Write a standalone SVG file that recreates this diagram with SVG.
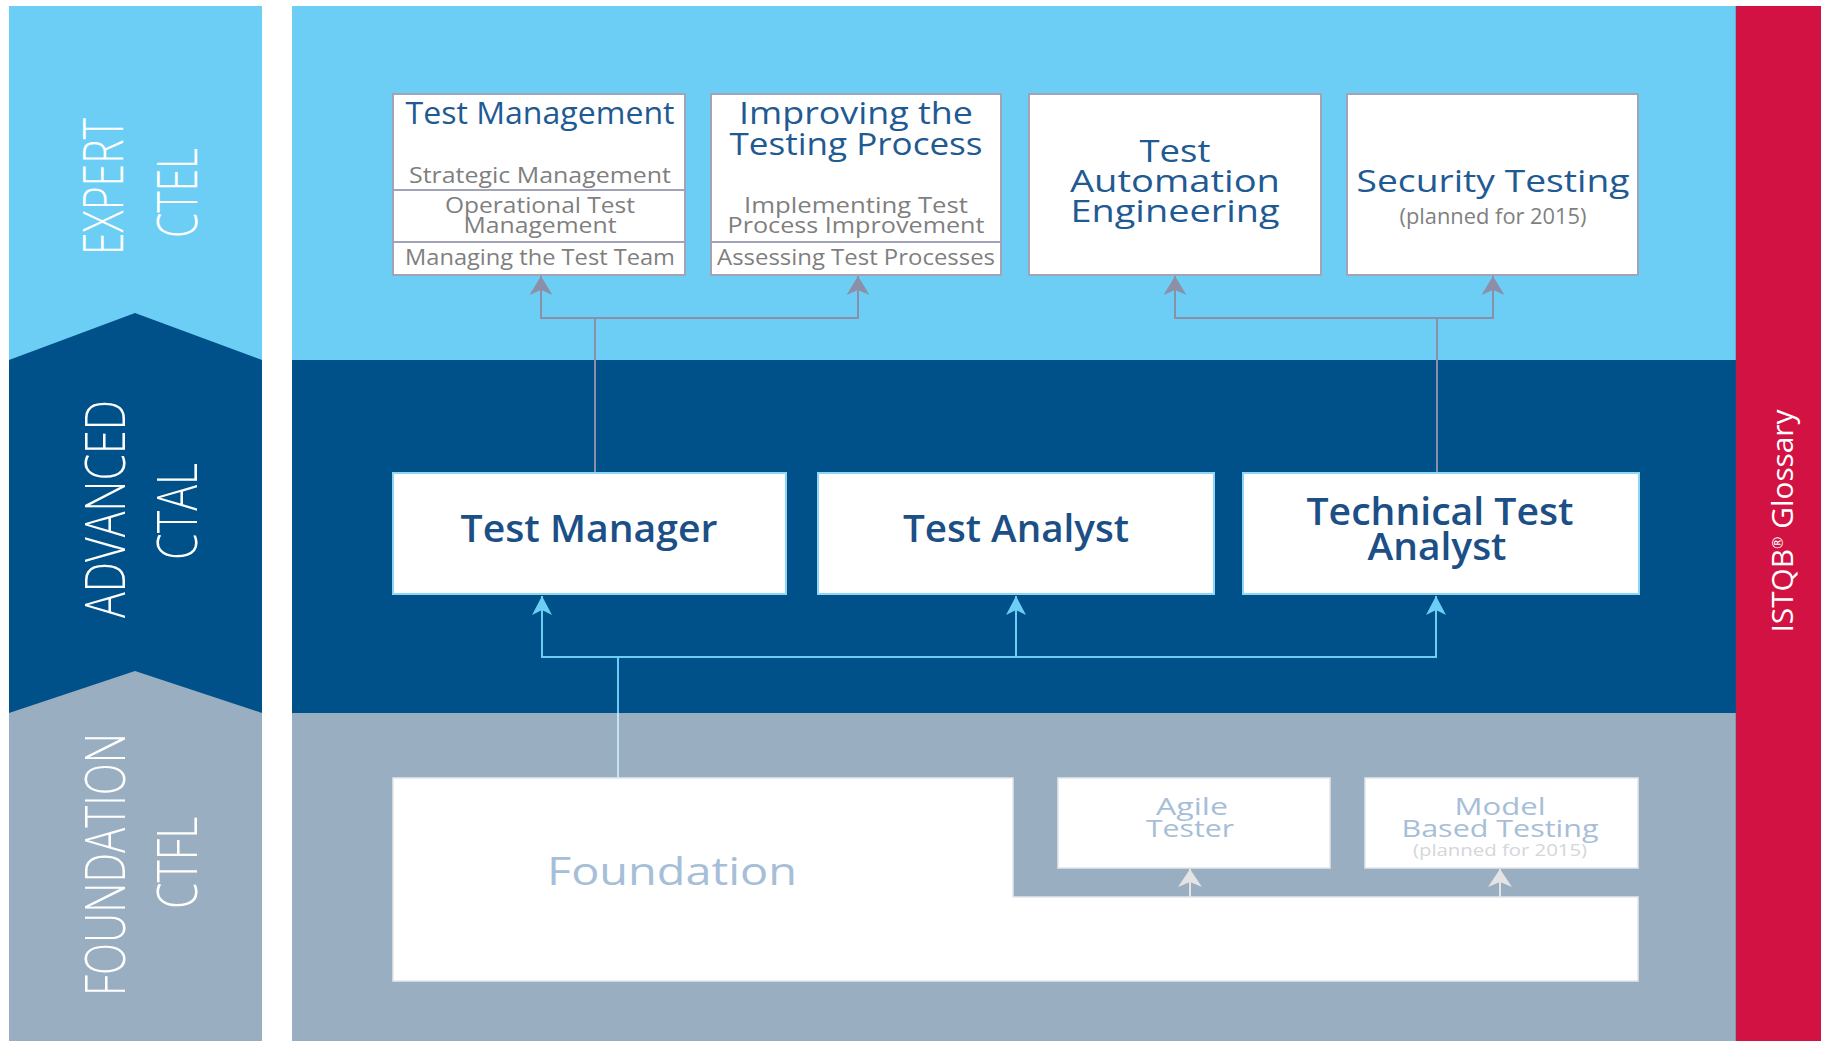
<svg xmlns="http://www.w3.org/2000/svg" width="1821" height="1041" viewBox="0 0 1821 1041">
<defs>
<style>
text{font-family:"Open Sans","Noto Sans","Liberation Sans",sans-serif;text-anchor:middle}
.band{font-weight:300;fill:#ffffff;font-size:56px}
.etitle{fill:#1f5a93;font-size:31px;font-weight:500}
.esub{fill:#7f7f7f;font-size:21px}
.abox{fill:#ffffff;stroke:#8fd6f5;stroke-width:2}
.ebox{fill:#ffffff;stroke:#a0a4b6;stroke-width:2}
.fbox{fill:#ffffff;stroke:#e2e7ec;stroke-width:1.5}
.atitle{fill:#1b4f86;font-size:37px;font-weight:600}
.ftitle{fill:#a6bed7;font-size:24px}
.fplan{fill:#d3d6da;font-size:16px}
.cg{fill:none;stroke:#8b90a8;stroke-width:2}
.cb{fill:none;stroke:#6dcef5;stroke-width:2}
.cf{fill:none;stroke:#e4e4e4;stroke-width:2}
</style>
<marker id="ag" markerUnits="userSpaceOnUse" viewBox="-20 -12 21 24" refX="0" refY="0" markerWidth="21" markerHeight="24" orient="auto"><path d="M0,0 L-19,-11.5 L-14,0 L-19,11.5 Z" fill="#8b90a8"/></marker>
<marker id="ab" markerUnits="userSpaceOnUse" viewBox="-20 -12 21 24" refX="0" refY="0" markerWidth="21" markerHeight="24" orient="auto"><path d="M0,0 L-19,-10 L-14,0 L-19,10 Z" fill="#6dcef5"/></marker>
<marker id="af" markerUnits="userSpaceOnUse" viewBox="-20 -13 21 26" refX="0" refY="0" markerWidth="21" markerHeight="26" orient="auto"><path d="M0,0 L-18,-12 L-13,0 L-18,12 Z" fill="#e4e4e4"/></marker>
</defs>
<rect x="0" y="0" width="1821" height="1041" fill="#ffffff"/>
<g id="bands">
<rect x="9" y="6" width="253" height="1035" fill="#99aec0"/>
<polygon points="9,340 135,293 262,340 262,713 135,671 9,713" fill="#00518a"/>
<polygon points="9,6 262,6 262,360 135,313 9,360" fill="#6dcef5"/>
<rect x="292" y="6" width="1444" height="354" fill="#6dcef5"/>
<rect x="292" y="360" width="1444" height="353" fill="#00518a"/>
<rect x="292" y="713" width="1444" height="328" fill="#99aec0"/>
<rect x="1736" y="6" width="85" height="1035" fill="#d21242"/>
<line x1="1736" y1="6" x2="1736" y2="1041" stroke="#5a4a6a" stroke-width="1" opacity="0.5"/>
<text class="band" transform="translate(123,186.5) rotate(-90)" textLength="137" lengthAdjust="spacingAndGlyphs">EXPERT</text>
<text class="band" transform="translate(197,193) rotate(-90)" textLength="90" lengthAdjust="spacingAndGlyphs">CTEL</text>
<text class="band" transform="translate(125,509) rotate(-90)" textLength="218" lengthAdjust="spacingAndGlyphs">ADVANCED</text>
<text class="band" transform="translate(197,511.5) rotate(-90)" textLength="97" lengthAdjust="spacingAndGlyphs">CTAL</text>
<text class="band" transform="translate(125,864.5) rotate(-90)" textLength="263" lengthAdjust="spacingAndGlyphs">FOUNDATION</text>
<text class="band" transform="translate(197,863) rotate(-90)" textLength="92" lengthAdjust="spacingAndGlyphs">CTFL</text>
<text transform="translate(1793,521) rotate(-90)" fill="#ffffff" font-size="30" textLength="223" lengthAdjust="spacingAndGlyphs">ISTQB<tspan font-size="15" baseline-shift="super">®</tspan> Glossary</text>
</g>
<g id="connectors">
<path class="cg" d="M595,473 V318 H541 V276" marker-end="url(#ag)"/>
<path class="cg" d="M595,318 H858 V276" marker-end="url(#ag)"/>
<path class="cg" d="M1437,473 V318 H1175 V276" marker-end="url(#ag)"/>
<path class="cg" d="M1437,318 H1493 V276" marker-end="url(#ag)"/>
<path d="M618,778 V713" fill="none" stroke="#c3e2f2" stroke-width="2"/>
<path class="cb" d="M618,713 V657 H542 V596" marker-end="url(#ab)"/>
<path class="cb" d="M618,657 H1436 V596" marker-end="url(#ab)"/>
<path class="cb" d="M1016,657 V596" marker-end="url(#ab)"/>
<path class="cf" d="M1190,897 V869" marker-end="url(#af)"/>
<path class="cf" d="M1500,897 V869" marker-end="url(#af)"/>
</g>
<g id="test-management">
<rect class="ebox" x="393" y="94" width="292" height="181"/>
<line x1="393" y1="190" x2="685" y2="190" stroke="#a0a4b6" stroke-width="2"/>
<line x1="393" y1="242" x2="685" y2="242" stroke="#a0a4b6" stroke-width="2"/>
<text class="etitle" x="540" y="124" textLength="269" lengthAdjust="spacingAndGlyphs">Test Management</text>
<text class="esub" x="540" y="183" textLength="262" lengthAdjust="spacingAndGlyphs">Strategic Management</text>
<text class="esub" x="540" y="213" textLength="190" lengthAdjust="spacingAndGlyphs">Operational Test</text>
<text class="esub" x="540" y="233" textLength="153" lengthAdjust="spacingAndGlyphs">Management</text>
<text class="esub" x="540" y="265" textLength="270" lengthAdjust="spacingAndGlyphs">Managing the Test Team</text>
</g>
<g id="improving">
<rect class="ebox" x="711" y="94" width="290" height="181"/>
<line x1="711" y1="242" x2="1001" y2="242" stroke="#a0a4b6" stroke-width="2"/>
<text class="etitle" x="856" y="124" textLength="234" lengthAdjust="spacingAndGlyphs">Improving the</text>
<text class="etitle" x="856" y="155" textLength="253" lengthAdjust="spacingAndGlyphs">Testing Process</text>
<text class="esub" x="856" y="213" textLength="224" lengthAdjust="spacingAndGlyphs">Implementing Test</text>
<text class="esub" x="856" y="233" textLength="257" lengthAdjust="spacingAndGlyphs">Process Improvement</text>
<text class="esub" x="856" y="265" textLength="278" lengthAdjust="spacingAndGlyphs">Assessing Test Processes</text>
</g>
<g id="test-automation">
<rect class="ebox" x="1029" y="94" width="292" height="181"/>
<text class="etitle" x="1175" y="162" textLength="71" lengthAdjust="spacingAndGlyphs">Test</text>
<text class="etitle" x="1175" y="192" textLength="210" lengthAdjust="spacingAndGlyphs">Automation</text>
<text class="etitle" x="1175" y="222" textLength="209" lengthAdjust="spacingAndGlyphs">Engineering</text>
</g>
<g id="security-testing">
<rect class="ebox" x="1347" y="94" width="291" height="181"/>
<text class="etitle" x="1493" y="192" textLength="273" lengthAdjust="spacingAndGlyphs">Security Testing</text>
<text class="esub" x="1493" y="224" font-size="17" textLength="187" lengthAdjust="spacingAndGlyphs">(planned for 2015)</text>
</g>
<g id="test-manager">
<rect class="abox" x="393" y="473" width="393" height="121"/>
<text class="atitle" x="589" y="542" textLength="257" lengthAdjust="spacingAndGlyphs">Test Manager</text>
</g>
<g id="test-analyst">
<rect class="abox" x="818" y="473" width="396" height="121"/>
<text class="atitle" x="1016" y="542" textLength="226" lengthAdjust="spacingAndGlyphs">Test Analyst</text>
</g>
<g id="technical-test-analyst">
<rect class="abox" x="1243" y="473" width="396" height="121"/>
<text class="atitle" x="1440" y="525" textLength="267" lengthAdjust="spacingAndGlyphs">Technical Test</text>
<text class="atitle" x="1437" y="560" textLength="139" lengthAdjust="spacingAndGlyphs">Analyst</text>
</g>
<g id="foundation">
<path d="M393,778 H1013 V897 H1638 V981 H393 Z" fill="#ffffff" stroke="#e2e7ec" stroke-width="1.5"/>
<text x="672" y="885" fill="#a6bed7" font-size="38" textLength="250" lengthAdjust="spacingAndGlyphs">Foundation</text>
</g>
<g id="agile-tester">
<rect class="fbox" x="1058" y="778" width="272" height="90"/>
<text class="ftitle" x="1192" y="815" textLength="72" lengthAdjust="spacingAndGlyphs">Agile</text>
<text class="ftitle" x="1190" y="837" textLength="88" lengthAdjust="spacingAndGlyphs">Tester</text>
</g>
<g id="model-based-testing">
<rect class="fbox" x="1365" y="778" width="273" height="90"/>
<text class="ftitle" x="1500" y="815" textLength="91" lengthAdjust="spacingAndGlyphs">Model</text>
<text class="ftitle" x="1500" y="837" textLength="197" lengthAdjust="spacingAndGlyphs">Based Testing</text>
<text class="fplan" x="1500" y="856" textLength="174" lengthAdjust="spacingAndGlyphs">(planned for 2015)</text>
</g>
</svg>
